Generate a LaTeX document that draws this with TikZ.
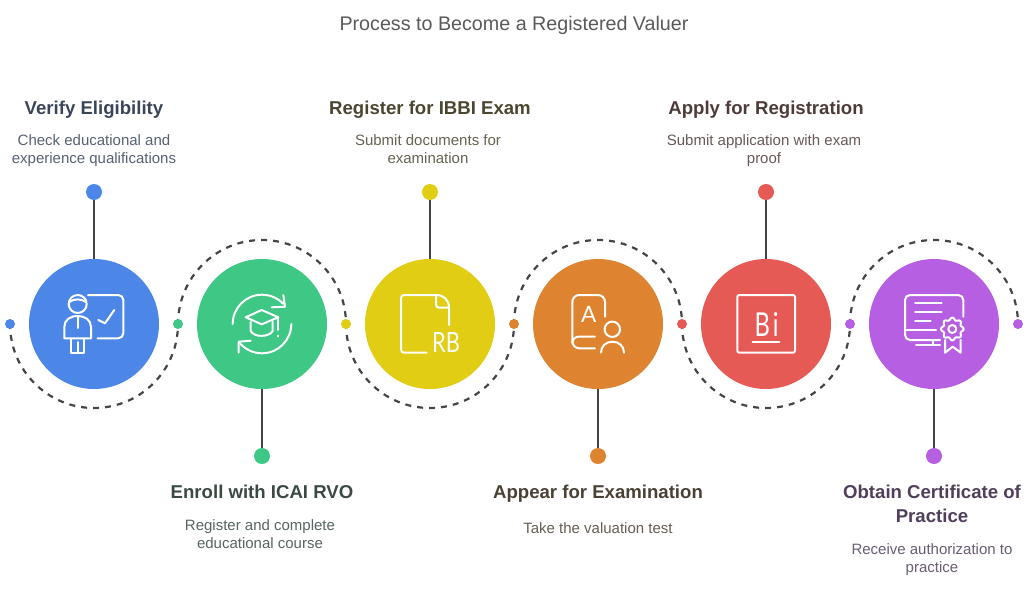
\documentclass[tikz,border=0pt]{standalone}
\usepackage{fontspec}
\setmainfont{Liberation Sans}
\newfontfamily\thinfont{Lato}
\definecolor{cblue}{HTML}{4C87E8}
\definecolor{cgreen}{HTML}{3EC785}
\definecolor{cyellow}{HTML}{E0CD14}
\definecolor{corange}{HTML}{DE8330}
\definecolor{cred}{HTML}{E65A55}
\definecolor{cpurple}{HTML}{B65FE3}
\definecolor{lineg}{HTML}{444444}
\definecolor{tblue}{HTML}{3A4559}
\definecolor{tgreen}{HTML}{3A4A42}
\definecolor{tyellow}{HTML}{4A4630}
\definecolor{torange}{HTML}{4A4034}
\definecolor{tred}{HTML}{4D3B39}
\definecolor{tpurple}{HTML}{4F3F5A}
\newcommand\twob[2]{\rule{0pt}{12pt}#1\\#2\rule[-4pt]{0pt}{4pt}}
\tikzset{
  bigc/.style={circle,minimum size=130pt,inner sep=0pt,fill=#1},
  smalld/.style={circle,minimum size=10pt,inner sep=0pt,fill=#1},
  endd/.style={circle,minimum size=16pt,inner sep=0pt,fill=#1},
  conn/.style={draw=lineg,line width=2.2pt},
  dashc/.style={draw=lineg,line width=2.2pt,dash pattern=on 6pt off 6pt,dash phase=1pt},
  icon/.style={draw=white,line width=2pt,line cap=round,line join=round},
  glyph/.style={inner sep=0pt,text=white,anchor=base},
  head/.style={font=\fontsize{18.6}{24}\selectfont\bfseries,align=center,text=#1,inner sep=0pt},
  body/.style={font=\fontsize{15}{18}\selectfont,align=center,text=#1!85!white,inner sep=0pt},
  ttl/.style={font=\fontsize{19.7}{22}\selectfont,text=#1,inner sep=0pt,anchor=base}
}
\begin{document}
\begin{tikzpicture}[x=1pt,y=-1pt]
\useasboundingbox (0,0) rectangle (1029,600);
\node[ttl=black!65] (title) at (514,30) {Process to Become a Registered Valuer};
\coordinate (p1) at (10,324);
\coordinate (p2) at (178,324);
\coordinate (p3) at (346,324);
\coordinate (p4) at (514,324);
\coordinate (p5) at (682,324);
\coordinate (p6) at (850,324);
\coordinate (p7) at (1018,324);
% dashed arcs
\draw[dashc] (p1) arc[start angle=180,end angle=0,radius=84];
\draw[dashc] (p2) arc[start angle=-180,end angle=0,radius=84];
\draw[dashc] (p3) arc[start angle=180,end angle=0,radius=84];
\draw[dashc] (p4) arc[start angle=-180,end angle=0,radius=84];
\draw[dashc] (p5) arc[start angle=180,end angle=0,radius=84];
\draw[dashc] (p6) arc[start angle=-180,end angle=0,radius=84];
% dots
\node[smalld=cblue] (d1) at (p1) {};
\node[smalld=cgreen] (d2) at (p2) {};
\node[smalld=cyellow] (d3) at (p3) {};
\node[smalld=corange] (d4) at (p4) {};
\node[smalld=cred] (d5) at (p5) {};
\node[smalld=cpurple] (d6) at (p6) {};
\node[smalld=cpurple] (d7) at (p7) {};
% circles
\node[bigc=cblue] (c1) at (94,324) {};
\node[bigc=cgreen] (c2) at (262,324) {};
\node[bigc=cyellow] (c3) at (430,324) {};
\node[bigc=corange] (c4) at (598,324) {};
\node[bigc=cred] (c5) at (766,324) {};
\node[bigc=cpurple] (c6) at (934,324) {};
% end dots
\node[endd=cblue] (e1) at (94,192) {};
\node[endd=cgreen] (e2) at (262,456) {};
\node[endd=cyellow] (e3) at (430,192) {};
\node[endd=corange] (e4) at (598,456) {};
\node[endd=cred] (e5) at (766,192) {};
\node[endd=cpurple] (e6) at (934,456) {};
\draw[conn] (e1) -- (c1);
\draw[conn] (e2) -- (c2);
\draw[conn] (e3) -- (c3);
\draw[conn] (e4) -- (c4);
\draw[conn] (e5) -- (c5);
\draw[conn] (e6) -- (c6);
% texts
\node[head=tblue,anchor=base] (h1) at (94,114.7) {Verify Eligibility};
\node[body=tblue] (b1) at (94,150.7) {\twob{Check educational and}{experience qualifications}};
\node[head=tgreen,anchor=base] (h2) at (262,498.7) {Enroll with ICAI RVO};
\node[body=tgreen] (b2) at (260,535) {\twob{Register and complete}{educational course}};
\node[head=tyellow,anchor=base] (h3) at (430,114.7) {Register for IBBI Exam};
\node[body=tyellow] (b3) at (428,150.7) {\twob{Submit documents for}{examination}};
\node[head=torange,anchor=base] (h4) at (598,498.7) {Appear for Examination};
\node[body=torange,anchor=base] (b4) at (598,533) {Take the valuation test};
\node[head=tred,anchor=base] (h5) at (766,114.7) {Apply for Registration};
\node[body=tred] (b5) at (764,150.7) {\twob{Submit application with exam}{proof}};
\node[head=tpurple] (h6) at (932,505.5) {\rule{0pt}{14pt}Obtain Certificate of\\Practice\rule[-4pt]{0pt}{4pt}};
\node[body=tpurple] (b6) at (932,559) {\twob{Receive authorization to}{practice}};
% icon 1: teacher
\draw[icon] (77.7,304) circle (9);
\draw[icon] (69.5,302) .. controls (74,298.5) and (81,298.5) .. (86,302);
\draw[icon] (88,295) -- (118.3,295) arc[start angle=-90,end angle=0,radius=5] -- (123.3,333.3) arc[start angle=0,end angle=90,radius=5] -- (97.5,338.3);
\draw[icon] (98.3,320) -- (105,323.3) -- (114.3,310);
\draw[icon] (64.3,338.3) -- (64.3,327) .. controls (64.3,320) and (70,316) .. (77.7,316) .. controls (85,316) and (91,320) .. (91,327) -- (91,338.3) -- cycle;
\draw[icon] (77.7,316) -- (77.7,328);
\draw[icon] (70.7,338.3) -- (70.7,352.7) -- (84.3,352.7) -- (84.3,338.3);
\draw[icon] (77.7,342) -- (77.7,352.7);
% icon 2: cap with arrows
\draw[icon] (232.7,324) arc[start angle=180,end angle=316,radius=29.3];
\draw[icon] (283.3,295) -- (285,306.7) -- (271.7,307.3);
\draw[icon] (291.3,324) arc[start angle=0,end angle=142,radius=29.3];
\draw[icon] (238.7,352.7) -- (238.7,341.7) -- (250.7,340.7);
\draw[icon] (245.7,317.3) -- (261.7,310) -- (278.3,317.3) -- (261.7,324.3) -- cycle;
\draw[icon] (250.7,322) -- (250.7,331) .. controls (254,337.5) and (269,337.5) .. (272.7,331) -- (272.7,322);
\draw[icon] (277.7,317) -- (277.7,330);
\draw[icon] (277.7,335.5) -- (277.7,336.5);
% icon 3: doc RB
\draw[icon] (426.7,352.7) -- (404,352.7) arc[start angle=90,end angle=180,radius=3] -- (401,298) arc[start angle=180,end angle=270,radius=3] -- (436,295) .. controls (444,295) and (449,300) .. (449,308) -- (449,325);
\draw[icon] (436,295) -- (436,304.7) arc[start angle=180,end angle=90,radius=3] -- (449,307.7);
\node[glyph,font=\thinfont\fontsize{28}{28}\selectfont,xscale=0.78] (rb) at (446,352.7) {RB};
% icon 4
\draw[icon] (605,316.7) -- (605,302) arc[start angle=0,end angle=-90,radius=7] -- (579.3,295) arc[start angle=-90,end angle=-180,radius=7] -- (572.3,341.3) arc[start angle=180,end angle=90,radius=7] -- (595,348.3);
\draw[icon] (572.3,343) arc[start angle=180,end angle=270,radius=6.3] -- (595,336.7);
\node[glyph,font=\thinfont\fontsize{22.5}{22}\selectfont] (a4) at (588.7,322.7) {A};
\draw[icon] (612.3,329.3) circle (7.7);
\draw[icon] (601,352.7) .. controls (601,346) and (606,341.7) .. (612.5,341.7) .. controls (619,341.7) and (624,346) .. (624,352.7);
% icon 5
\draw[icon,rounded corners=2pt] (737.3,295) rectangle (795,352.7);
\draw[icon] (752.7,341.7) -- (779.3,341.7);
\node[glyph,font=\thinfont\fontsize{33}{33}\selectfont,xscale=0.72] (bi) at (766.5,336) {B\kern4pt i};
% icon 6
\draw[icon] (963.3,316.7) -- (963.3,300) arc[start angle=0,end angle=-90,radius=5] -- (910,295) arc[start angle=-90,end angle=-180,radius=5] -- (905,335) arc[start angle=180,end angle=90,radius=5] -- (940,340);
\draw[icon] (905,330) -- (936,330);
\draw[icon] (915,303.3) -- (941.7,303.3);
\draw[icon] (915,312.3) -- (941.7,312.3);
\draw[icon] (915,321) -- (930.7,321);
\draw[icon] (932.7,340) -- (932.7,345);
\draw[icon] (916,345) -- (940,345);
\draw[icon] (952.3,329) circle (4);
\draw[icon] plot[smooth,domain=0:360,samples=65] ({952.3+(10.2+1.2*cos(8*\x))*cos(\x)},{329+(10.2+1.2*cos(8*\x))*sin(\x)});
\draw[icon] (945,340) -- (945,352.7) -- (952.7,346.7) -- (960.7,352.7) -- (960.7,340);
\end{tikzpicture}
\end{document}
